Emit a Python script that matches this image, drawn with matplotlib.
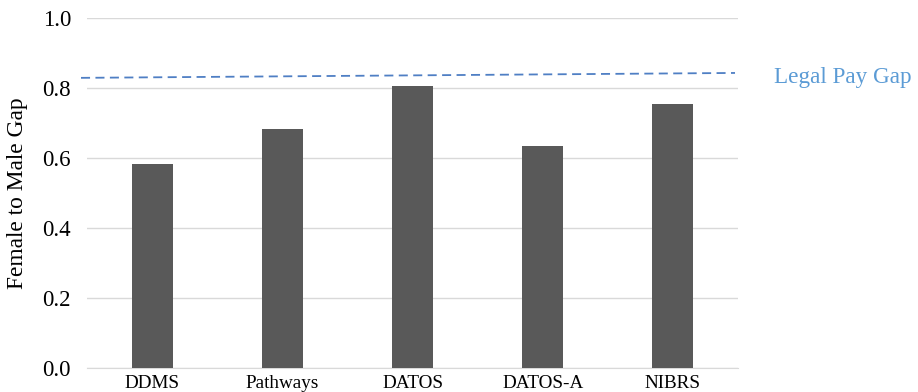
import matplotlib.pyplot as plt

categories = ['DDMS', 'Pathways', 'DATOS', 'DATOS-A', 'NIBRS']
gap_values = [0.583, 0.683, 0.806, 0.634, 0.754]
legal_gap_start = 0.829
legal_gap_end = 0.843
y_ticks = [0.0, 0.2, 0.4, 0.6, 0.8, 1.0]

plt.rcParams['font.family'] = ['Liberation Serif', 'DejaVu Serif']

fig = plt.figure(figsize=(9.18, 3.92), dpi=100)
ax = fig.add_axes([87/918, 1 - 368/392, (738 - 87)/918, (368 - 18)/392])

x = range(len(categories))
ax.bar(x, gap_values, width=0.315, color='#595959', zorder=3)

ax.plot([-0.546, 4.477], [legal_gap_start, legal_gap_end], linestyle=(0, (5, 3)),
        color='#4f7fc4', linewidth=1.3, clip_on=False, zorder=4)
ax.text(1.055, 0.829, 'Legal Pay Gap',
        transform=ax.get_yaxis_transform(), color='#5b9bd5', fontsize=16.7,
        va='center', ha='left')

ax.set_xlim(-0.5, len(categories) - 0.5)
ax.set_ylim(0, 1.0)
ax.set_yticks(y_ticks)
ax.set_yticklabels([f'{t:.1f}' for t in y_ticks], fontsize=16.5)
ax.set_xticks(list(x))
ax.set_xticklabels(categories, fontsize=13.8)
ax.tick_params(length=0)
ax.tick_params(axis='y', pad=11.5)
ax.tick_params(axis='x', pad=5)
ax.grid(axis='y', color='#d9d9d9', linewidth=1, zorder=0)
for side in ['top', 'right', 'left']:
    ax.spines[side].set_visible(False)
ax.spines['bottom'].set_color('#d9d9d9')
ax.set_ylabel('Female to Male Gap', fontsize=16.8)
ax.yaxis.set_label_coords(-59/651, 0.5)

fig.savefig('out.png', dpi=100)
